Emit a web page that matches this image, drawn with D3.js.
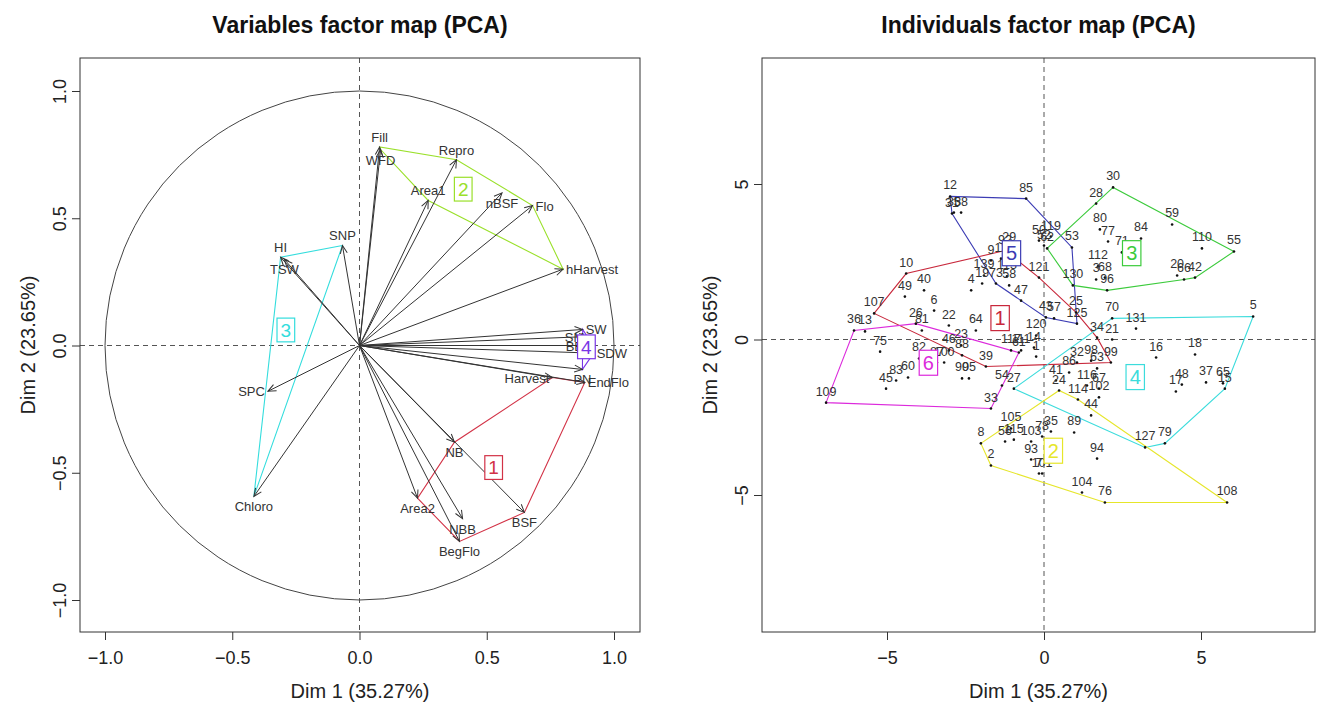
<!DOCTYPE html>
<html>
<head>
<meta charset="utf-8">
<script src="https://cdn.jsdelivr.net/npm/d3@7"></script>
<style>
  body { margin: 0; background: #fff; }
  svg text { font-family: "Liberation Sans", Arial, sans-serif; }
</style>
</head>
<body>
<div id="chart"></div>
<script>
// ---- Variables (correlation circle) ----
const varNames   = ['Fill', 'WFD', 'Repro', 'Area1', 'nBSF', 'Flo', 'hHarvest',
                    'SW', 'SM', 'BB', 'SDW', 'PN',
                    'Harvest', 'EndFlo', 'NB', 'Area2', 'NBB', 'BegFlo', 'BSF',
                    'SNP', 'HI', 'TSW', 'SPC', 'Chloro'];
const varDim1    = [0.079, 0.083, 0.381, 0.27, 0.56, 0.68, 0.80,
                    0.877, 0.895, 0.89, 0.92, 0.876,
                    0.758, 0.885, 0.373, 0.228, 0.405, 0.393, 0.648,
                    -0.067, -0.31, -0.295, -0.36, -0.415];
const varDim2    = [0.78, 0.77, 0.73, 0.57, 0.60, 0.55, 0.30,
                    0.063, 0.035, 0.0, -0.03, -0.094,
                    -0.126, -0.145, -0.38, -0.60, -0.68, -0.77, -0.656,
                    0.393, 0.347, 0.338, -0.18, -0.593];
const varCluster = [2, 2, 2, 2, 2, 2, 2,
                    4, 4, 4, 4, 4,
                    1, 1, 1, 1, 1, 1, 1,
                    3, 3, 3, 3, 3];
// R-style text pos: 1 below, 2 left, 3 above, 4 right
const varLabelPos = [3, 1, 3, 3, 1, 4, 4,
                     4, 2, 2, 4, 1,
                     2, 4, 1, 1, 1, 1, 1,
                     3, 3, 1, 2, 1];
const varTicks = [-1.0, -0.5, 0.0, 0.5, 1.0];

// ---- Individuals ----
const indNames = [
  '12','35','38','31','85','29','9','11','113','58','73','47','43','125','53','119','52','50',
  '28','30','80','77','71','84','112','3','68','96','130','62','59','110','55','20','66','42',
  '10','107','49','92','121','25','99','39','139','4','19','64','57','34','98','1','14','120','117','111','6','22','40',
  '109','36','13','26','75','83','45','60','82','81','46','88','23','87','100','95','90','33','54','61',
  '5','70','21','131','16','18','48','17','37','65','15','127','79','27','32','41','116','63','67','102','86','44',
  '8','2','105','56','115','103','35','78','89','114','24','93','101','7','94','104','76','108'
];
const indDim1 = [
  -2.99,-2.87,-2.64,-2.93,-0.57,-1.11,-1.69,-1.37,-1.18,-1.11,-1.53,-0.73,0.06,1.05,0.89,0.22,0.00,-0.16,
  1.66,2.20,1.78,2.04,2.48,3.09,1.72,1.66,1.94,2.01,0.92,0.10,4.08,5.03,6.05,4.24,4.46,4.81,
  -4.39,-5.41,-4.43,-1.24,-0.16,1.02,2.13,-1.85,-1.91,-2.32,-1.97,-2.17,0.32,1.69,1.50,-0.25,-0.32,-0.25,-1.05,-0.73,-3.50,-3.03,-3.82,
  -6.94,-6.05,-5.70,-4.08,-5.22,-4.71,-5.03,-4.33,-3.98,-3.89,-3.03,-2.61,-2.64,-3.41,-3.18,-2.39,-2.61,-1.69,-1.34,-0.80,
  6.66,2.17,2.17,2.93,3.57,4.81,4.39,4.20,5.16,5.70,5.76,3.22,3.85,-0.96,1.05,0.38,1.37,1.69,1.75,1.75,0.80,1.50,
  -2.01,-1.69,-1.05,-1.24,-0.96,-0.41,0.22,-0.06,0.96,1.08,0.48,-0.41,-0.06,-0.16,1.69,1.21,1.94,5.83
];
const indDim2 = [
  4.60,4.08,4.08,4.05,4.53,2.93,2.54,2.60,2.03,1.74,1.80,1.25,0.71,0.51,2.96,3.31,3.02,3.18,
  4.37,4.89,3.54,3.15,2.80,3.25,2.35,1.93,1.99,1.58,1.74,2.93,3.70,2.93,2.83,2.06,1.93,1.99,
  2.12,0.84,1.38,2.86,1.99,0.87,-0.74,-0.87,2.06,1.58,1.80,0.29,0.68,0.06,-0.68,-0.55,-0.26,0.13,-0.35,-0.35,0.93,0.45,1.58,
  -2.03,0.29,0.26,0.51,-0.39,-1.32,-1.58,-1.22,-0.61,0.29,-0.35,-0.51,-0.19,-0.74,-0.74,-1.25,-1.25,-2.22,-1.48,-0.42,
  0.74,0.68,0.00,0.35,-0.58,-0.48,-1.45,-1.67,-1.38,-1.41,-1.58,-3.47,-3.34,-1.58,-0.74,-1.32,-1.48,-0.93,-1.58,-1.86,-1.06,-2.44,
  -3.34,-4.05,-2.86,-3.28,-3.22,-3.28,-2.96,-3.12,-2.99,-1.93,-1.64,-3.86,-4.31,-4.31,-3.83,-4.92,-5.24,-5.24
];
const indCluster = [
  5,5,5,5,5,5,5,5,5,5,5,5,5,5,5,5,5,5,
  3,3,3,3,3,3,3,3,3,3,3,3,3,3,3,3,3,3,
  1,1,1,1,1,1,1,1,1,1,1,1,1,1,1,1,1,1,1,1,1,1,1,
  6,6,6,6,6,6,6,6,6,6,6,6,6,6,6,6,6,6,6,6,
  4,4,4,4,4,4,4,4,4,4,4,4,4,4,4,4,4,4,4,4,4,4,
  2,2,2,2,2,2,2,2,2,2,2,2,2,2,2,2,2,2
];
const indTicks = [-5, 0, 5];

const axisTitles = ['Dim 1 (35.27%)', 'Dim 2 (23.65%)'];
const varClusterColors = { 1: '#D23246', 2: '#9AE02A', 3: '#33DDDD', 4: '#7A36E6' };
const indClusterColors = { 1: '#C8283C', 2: '#E6E62A', 3: '#3CCB3C', 4: '#3CDCDC', 5: '#3C3CB4', 6: '#DC2ADC' };

const W = 1317, H = 704;
const svg = d3.select('#chart').append('svg')
    .attr('width', W).attr('height', H)
    .style('background', '#fff');

// Open arrow head like R's arrows()
svg.append('defs').append('marker')
    .attr('id', 'arrow')
    .attr('viewBox', '-10 -6 12 12')
    .attr('refX', 0).attr('refY', 0)
    .attr('markerWidth', 12).attr('markerHeight', 12)
    .attr('markerUnits', 'userSpaceOnUse')
    .attr('orient', 'auto')
    .append('path')
    .attr('d', 'M-8,-3.5L0,0L-8,3.5')
    .attr('fill', 'none')
    .attr('stroke', '#333')
    .attr('stroke-width', 1);

function drawPanel(box, x, y, ticks, fmt, title) {
    const g = svg.append('g');
    const cx = (box.left + box.right) / 2;

    // dashed zero lines
    g.append('line')
        .attr('x1', box.left).attr('x2', box.right)
        .attr('y1', y(0)).attr('y2', y(0))
        .attr('stroke', '#555').attr('stroke-dasharray', '5,4');
    g.append('line')
        .attr('x1', x(0)).attr('x2', x(0))
        .attr('y1', box.top).attr('y2', box.bottom)
        .attr('stroke', '#555').attr('stroke-dasharray', '5,4');

    const xAxis = g.append('g')
        .attr('transform', `translate(0,${box.bottom})`)
        .call(d3.axisBottom(x).tickValues(ticks).tickFormat(fmt).tickSize(8).tickPadding(11));
    xAxis.select('.domain').remove();
    xAxis.selectAll('line').attr('stroke', '#333');
    xAxis.selectAll('text').attr('font-size', 18).attr('fill', '#222')
        .style('font-family', '"Liberation Sans", Arial, sans-serif');

    const yAxis = g.append('g')
        .attr('transform', `translate(${box.left},0)`)
        .call(d3.axisLeft(y).tickValues(ticks).tickFormat(fmt).tickSize(8));
    yAxis.select('.domain').remove();
    yAxis.selectAll('line').attr('stroke', '#333');
    yAxis.selectAll('text')
        .attr('x', 0).attr('y', -14).attr('dy', 0)
        .attr('transform', 'rotate(-90)')
        .attr('text-anchor', 'middle')
        .attr('font-size', 18).attr('fill', '#222')
        .style('font-family', '"Liberation Sans", Arial, sans-serif');

    // frame
    g.append('rect')
        .attr('x', box.left).attr('y', box.top)
        .attr('width', box.right - box.left).attr('height', box.bottom - box.top)
        .attr('fill', 'none').attr('stroke', '#333');

    g.append('text')
        .attr('x', cx).attr('y', 33)
        .attr('text-anchor', 'middle')
        .attr('font-size', 23).attr('font-weight', 'bold').attr('fill', '#111')
        .text(title);
    g.append('text')
        .attr('x', cx).attr('y', box.bottom + 66)
        .attr('text-anchor', 'middle')
        .attr('font-size', 20).attr('fill', '#222')
        .text(axisTitles[0]);
    g.append('text')
        .attr('transform', `translate(${box.left - 45},${(box.top + box.bottom) / 2}) rotate(-90)`)
        .attr('text-anchor', 'middle')
        .attr('font-size', 20).attr('fill', '#222')
        .text(axisTitles[1]);
    return g;
}

function drawHulls(g, pts, colors, fontSize) {
    const groups = d3.group(pts, d => d.cluster);
    const hullLayer = g.append('g');
    const boxLayer = [];
    for (const [c, members] of groups) {
        const hull = d3.polygonHull(members.map(d => [d.px, d.py]));
        if (hull) {
            hullLayer.append('path')
                .attr('d', 'M' + hull.join('L') + 'Z')
                .attr('fill', 'none')
                .attr('stroke', colors[c])
                .attr('stroke-width', 1.1);
        }
        boxLayer.push({ c, mx: d3.mean(members, d => d.px), my: d3.mean(members, d => d.py) });
    }
    return () => {
        boxLayer.forEach(b => {
            const bw = fontSize * 0.72, bh = fontSize * 1.25;
            g.append('rect')
                .attr('x', b.mx - bw / 2 - 2).attr('y', b.my - bh / 2)
                .attr('width', bw + 4).attr('height', bh)
                .attr('fill', '#fff').attr('stroke', colors[b.c]).attr('stroke-width', 1.2);
            g.append('text')
                .attr('x', b.mx).attr('y', b.my + fontSize * 0.36)
                .attr('text-anchor', 'middle')
                .attr('font-size', fontSize)
                .attr('fill', colors[b.c])
                .text(b.c);
        });
    };
}

// ---------- Left panel ----------
const boxL = { left: 80, right: 640, top: 58, bottom: 632 };
const xL = d3.scaleLinear().domain([-1, 1]).range([105, 614]);
const yL = d3.scaleLinear().domain([-1, 1]).range([600, 91]);
const gL = drawPanel(boxL, xL, yL, varTicks, d3.format('.1f'), 'Variables factor map (PCA)');

gL.append('circle')
    .attr('cx', xL(0)).attr('cy', yL(0))
    .attr('r', xL(1) - xL(0))
    .attr('fill', 'none').attr('stroke', '#444');

const vars = varNames.map((n, i) => ({
    name: n, px: xL(varDim1[i]), py: yL(varDim2[i]),
    cluster: varCluster[i], pos: varLabelPos[i]
}));

const drawVarBoxes = drawHulls(gL, vars, varClusterColors, 19);

gL.append('g').selectAll('line').data(vars).enter()
    .append('line')
    .attr('x1', xL(0)).attr('y1', yL(0))
    .attr('x2', d => d.px).attr('y2', d => d.py)
    .attr('stroke', '#333').attr('stroke-width', 1)
    .attr('marker-end', 'url(#arrow)');

gL.append('g').selectAll('text').data(vars).enter()
    .append('text')
    .attr('font-size', 13).attr('fill', '#333')
    .attr('x', d => d.pos === 2 ? d.px - 3 : d.pos === 4 ? d.px + 3 : d.px)
    .attr('y', d => d.pos === 1 ? d.py + 15 : d.pos === 3 ? d.py - 5 : d.py + 5)
    .attr('text-anchor', d => d.pos === 2 ? 'end' : d.pos === 4 ? 'start' : 'middle')
    .text(d => d.name);

drawVarBoxes();

// ---------- Right panel ----------
const boxR = { left: 762, right: 1315, top: 58, bottom: 632 };
const xR = d3.scaleLinear().domain([-5, 5]).range([887, 1201]);
const yR = d3.scaleLinear().domain([-5, 5]).range([495, 184]);
const gR = drawPanel(boxR, xR, yR, indTicks, d3.format('d'), 'Individuals factor map (PCA)');

const inds = indNames.map((n, i) => ({
    name: n, px: xR(indDim1[i]), py: yR(indDim2[i]), cluster: indCluster[i]
}));

const drawIndBoxes = drawHulls(gR, inds, indClusterColors, 20);

gR.append('g').selectAll('circle').data(inds).enter()
    .append('circle')
    .attr('cx', d => d.px).attr('cy', d => d.py)
    .attr('r', 1.3).attr('fill', '#111');

gR.append('g').selectAll('text').data(inds).enter()
    .append('text')
    .attr('x', d => d.px).attr('y', d => d.py - 7)
    .attr('text-anchor', 'middle')
    .attr('font-size', 12.5).attr('fill', '#333')
    .text(d => d.name);

drawIndBoxes();
</script>
</body>
</html>
